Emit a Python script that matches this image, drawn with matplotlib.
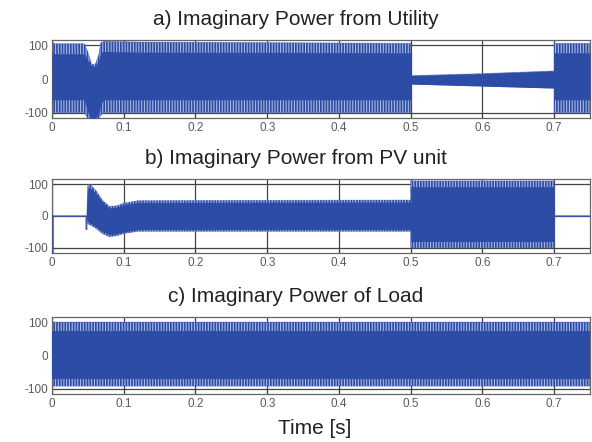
import matplotlib
matplotlib.use("Agg")
import matplotlib.pyplot as plt

plt.rcParams['font.family'] = ['Liberation Sans', 'DejaVu Sans']
plt.rcParams['hatch.linewidth'] = 1.2

# ---------------- data (envelopes) ----------------
titles = ["a) Imaginary Power from Utility",
          "b) Imaginary Power from PV unit",
          "c) Imaginary Power of Load"]
xlabel = "Time [s]"
xticks = [0, 0.1, 0.2, 0.3, 0.4, 0.5, 0.6, 0.7]
xticklabels = ["0", "0.1", "0.2", "0.3", "0.4", "0.5", "0.6", "0.7"]
yticks = [-100, 0, 100]
yticklabels = ["-100", "0", "100"]

# a) Utility
t_a = [0.0, 0.003, 0.045, 0.05, 0.055, 0.06, 0.065, 0.068, 0.072, 0.12, 0.5, 0.5, 0.55, 0.6, 0.65, 0.7, 0.7, 0.75]
a_out_hi = [112, 105, 105, 80, 45, 42, 70, 108, 112, 110, 106, 10, 13, 16, 20, 24, 106, 106]
a_in_hi = [80, 75, 75, 55, 40, 38, 55, 80, 82, 80, 78, 10, 13, 16, 20, 24, 78, 78]
a_out_lo = [-100, -100, -100, -118, -118, -118, -118, -108, -100, -100, -100, -15, -18, -21, -24, -27, -100, -100]
a_in_lo = [-62, -62, -62, -100, -118, -118, -105, -75, -62, -62, -62, -15, -18, -21, -24, -27, -62, -62]

# b) PV unit
t_b = [0.0, 0.0015, 0.0015, 0.047, 0.047, 0.0485, 0.0485, 0.05, 0.055, 0.062, 0.07, 0.08, 0.09, 0.1, 0.12, 0.5, 0.5, 0.7, 0.7, 0.75]
b_out_hi = [0, 0, 1, 1, 1, 1, 1, 100, 95, 78, 50, 30, 32, 40, 48, 50, 110, 110, 1, 1]
b_in_hi = [0, 0, 1, 1, 1, 1, 1, 90, 85, 70, 45, 25, 28, 36, 42, 44, 92, 92, 1, 1]
b_out_lo = [-118, -118, -1, -1, -42, -42, -1, -25, -30, -40, -55, -65, -62, -55, -48, -48, -100, -100, -1, -1]
b_in_lo = [-118, -118, -1, -1, -42, -42, -1, -20, -25, -35, -48, -58, -56, -50, -42, -42, -80, -80, -1, -1]

# c) Load
t_c = [0.0, 0.75]
c_out_hi = [102, 102]
c_in_hi = [75, 75]
c_out_lo = [-92, -92]
c_in_lo = [-72, -72]

series = [
    (t_a, a_out_hi, a_in_hi, a_in_lo, a_out_lo),
    (t_b, b_out_hi, b_in_hi, b_in_lo, b_out_lo),
    (t_c, c_out_hi, c_in_hi, c_in_lo, c_out_lo),
]

# ---------------- figure ----------------
blue = '#2d4ca6'
fringe = '#a9b7e0'
fig = plt.figure(figsize=(5.92, 4.42), dpi=100)
W, H = 592, 442
boxes = [(40, 118), (179, 253), (317, 394)]
left, right = 52, 590

for (top, bot), (t, ohi, ihi, ilo, olo), title in zip(boxes, series, titles):
    ax = fig.add_axes([left / W, 1 - bot / H, (right - left) / W, (bot - top) / H])
    ax.fill_between(t, olo, ohi, facecolor=fringe, edgecolor=blue, hatch='||||||',
                    lw=0, zorder=2)
    ax.fill_between(t, ilo, ihi, color=blue, lw=0, zorder=3)
    ax.plot(t, ohi, color=blue, lw=0.6, alpha=0.4, zorder=3)
    ax.plot(t, olo, color=blue, lw=0.6, alpha=0.4, zorder=3)
    ax.set_xlim(0, 0.75)
    ax.set_ylim(-116, 116)
    ax.set_xticks(xticks)
    ax.set_xticklabels(xticklabels)
    ax.set_yticks(yticks)
    ax.set_yticklabels(yticklabels)
    ax.grid(True, color='#444444', lw=0.9, zorder=1)
    ax.set_axisbelow(True)
    ax.tick_params(direction='in', length=3, width=0.8, labelsize=8.5,
                   labelcolor='#5a5a5a', color='#444444', pad=3)
    for s in ax.spines.values():
        s.set_color('#666666')
        s.set_linewidth(0.9)
    ax.set_title(title, fontsize=15, color='#222222', pad=11,
                 x=(W / 2 - left) / (right - left))

fig.text(315 / W, 1 - 428 / H, xlabel, fontsize=15, color='#222222',
         ha='center', va='center')

fig.savefig('out.png', dpi=100)
